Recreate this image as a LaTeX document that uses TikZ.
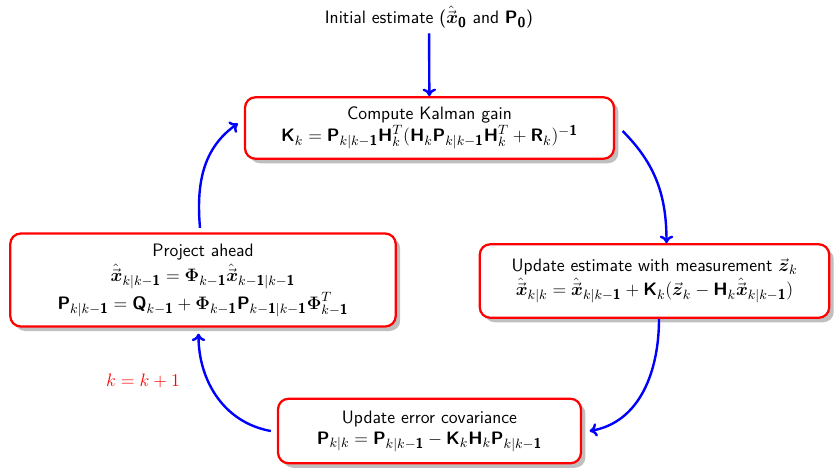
\documentclass[tikz,border=0pt]{standalone}
\usepackage{amsmath}
\usepackage{tikz}
\usetikzlibrary{arrows.meta,positioning,shadows}
\DeclareMathSizes{12}{12}{9.5}{7}
\newcommand{\mtx}[1]{\textsf{\bfseries #1}}
\newcommand{\one}{\textsf{\bfseries 1}}
\newcommand{\xhat}{\hat{\vec{\boldsymbol{x}}}}
\newcommand{\zvec}{\vec{\boldsymbol{z}}}

\begin{document}
\begin{tikzpicture}[
    x=0.6667pt, y=-0.6667pt,
    font=\sffamily\large,
    stage/.style={draw=red,line width=1.5pt,rounded corners=7pt,fill=white,
        align=center,inner sep=2pt,
        drop shadow={shadow xshift=3pt,shadow yshift=-3pt,fill=black!25,opacity=1}},
    flow/.style={-{To[length=5pt,width=9pt]},blue,line width=1.6pt},
]
\useasboundingbox (0,0) rectangle (835,467);
\node (init) at (429,17) {Initial estimate ($\xhat_{\textsf{\bfseries 0}}$ and $\mtx{P}_{\textsf{\bfseries 0}}$)};
\node[stage,minimum width=246pt,minimum height=41pt] (gain) at (429.5,128)
    {Compute Kalman gain\\[1pt]
     $\mtx{K}_k=\mtx{P}_{k|k-\one}\mtx{H}_k^T(\mtx{H}_k\mtx{P}_{k|k-\one}\mtx{H}_k^T+\mtx{R}_k)^{-\one}$};
\node[stage,minimum width=233pt,minimum height=49pt] (update) at (654.5,281)
    {Update estimate with measurement $\zvec_k$\\[1pt]
     $\xhat_{k|k}=\xhat_{k|k-\one}+\mtx{K}_k(\zvec_k-\mtx{H}_k\xhat_{k|k-\one})$};
\node[stage,minimum width=202pt,minimum height=43pt] (cov) at (429.5,431)
    {Update error covariance\\
     $\mtx{P}_{k|k}=\mtx{P}_{k|k-\one}-\mtx{K}_k\mtx{H}_k\mtx{P}_{k|k-\one}$};
\node[stage,minimum width=257pt,minimum height=62pt] (project) at (203,280)
    {Project ahead\\[2pt]
     $\xhat_{k|k-\one}=\boldsymbol{\Phi}_{k-\one}\xhat_{k-\one|k-\one}$\\[1pt]
     $\mtx{P}_{k|k-\one}=\mtx{Q}_{k-\one}+\boldsymbol{\Phi}_{k-\one}\mtx{P}_{k-\one|k-\one}\boldsymbol{\Phi}_{k-\one}^T$};
\node[red] (incr) at (143,381) {$k=k+1$};
% loop
\draw[flow] (init) -- (gain);
\draw[flow] ([xshift=5pt,yshift=-2pt]gain.east) to[out=-45,in=90] ([xshift=8pt]update.north);
\draw[flow] ([xshift=3pt]update.south) to[out=-90,in=10] ([xshift=5pt]cov.east);
\draw[flow] ([xshift=-4pt]cov.west) to[out=170,in=-90] ([xshift=-3pt,yshift=-4pt]project.south);
\draw[flow] ([xshift=-2pt,yshift=3pt]project.north) to[out=95,in=215] ([xshift=-4pt,yshift=3pt]gain.west);
\end{tikzpicture}
\end{document}
